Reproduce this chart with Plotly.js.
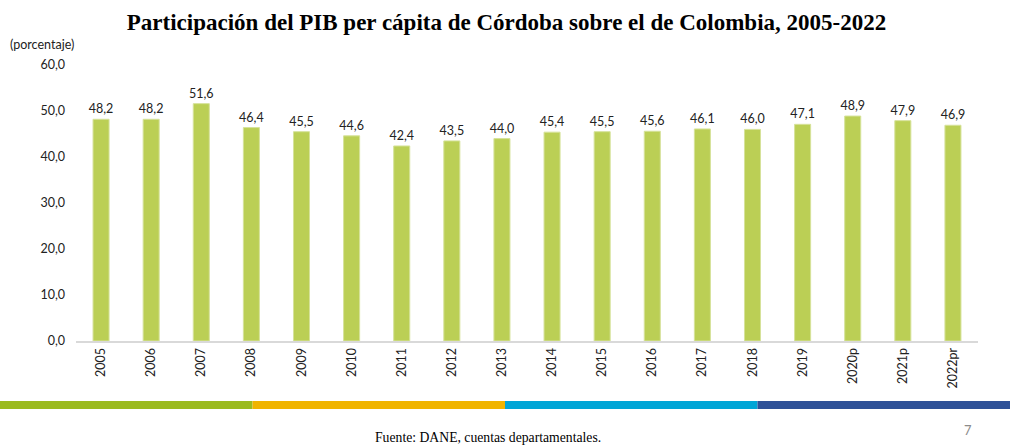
<!DOCTYPE html>
<html>
<head>
<meta charset="utf-8">
<script src="https://cdn.plot.ly/plotly-3.0.1.min.js"></script>
<style>
  body { margin: 0; background: #fff; }
  #chart { width: 1013px; height: 445px; }
</style>
</head>
<body>
<div id="chart"></div>
<script>
// Participación del PIB per cápita de Córdoba sobre el de Colombia
const years = ["2005", "2006", "2007", "2008", "2009", "2010", "2011", "2012", "2013",
               "2014", "2015", "2016", "2017", "2018", "2019", "2020p", "2021p", "2022pr"];
const share = [48.2, 48.2, 51.6, 46.4, 45.5, 44.6, 42.4, 43.5, 44.0,
               45.4, 45.5, 45.6, 46.1, 46.0, 47.1, 48.9, 47.9, 46.9];
const yTicks = [0, 10, 20, 30, 40, 50, 60];

const stripColors = ["#9bbb1f", "#f0b400", "#00a5d6", "#2e5198"];

// plot area in pixels, used to place the coloured strip in paper coords
const L = 76, R = 978, T = 65, B = 341;
const px = x => (x - L) / (R - L);
const py = y => (B - y) / (B - T);

let strip = stripColors.map((c, i) => ({
    type: "rect", xref: "paper", yref: "paper",
    x0: px(i * 252.5), x1: px((i + 1) * 252.5),
    y0: py(401), y1: py(409),
    fillcolor: c, line: { width: 0 }
}));

let trace = {
    x: years,
    y: share,
    type: "bar",
    marker: { color: "#bbcf55", line: { color: "#d6e29a", width: 1 } },
    texttemplate: "%{y:.1f}",
    textposition: "outside",
    constraintext: "none",
    textfont: { family: "Lato, 'Open Sans', sans-serif", size: 12.5, color: "#222" },
    cliponaxis: false,
    hoverinfo: "skip"
};

let layout = {
    width: 1013, height: 445,
    margin: { l: L, r: 1013 - R, t: T, b: 445 - B },
    paper_bgcolor: "#fff", plot_bgcolor: "#fff",
    separators: ",.",
    showlegend: false,
    bargap: 0.68,
    font: { family: "Lato, 'Open Sans', sans-serif", size: 12.5, color: "#222" },
    title: {
        text: "<b>Participación del PIB per cápita de Córdoba sobre el de Colombia, 2005-2022</b>",
        font: { family: "'Liberation Serif', 'DejaVu Serif', serif", size: 23, color: "#000" },
        x: 0.5, xanchor: "center", y: 0.95, yanchor: "middle"
    },
    xaxis: {
        type: "category",
        tickangle: -90,
        showgrid: false,
        showline: true, linecolor: "#d9d9d9", linewidth: 2,
        ticks: "", ticklen: 0,
        tickfont: { size: 12.5, color: "#222" }
    },
    yaxis: {
        range: [0, 60],
        tickvals: yTicks,
        tickformat: ".1f",
        showgrid: false, zeroline: false, showline: false,
        ticks: "", ticklabelstandoff: 10,
        tickfont: { size: 12.5, color: "#222" }
    },
    shapes: strip,
    annotations: [
        {
            text: "(porcentaje)", xref: "paper", yref: "paper",
            x: px(8), y: py(44), xanchor: "left", yanchor: "middle",
            showarrow: false, font: { size: 12.5, color: "#222" }
        },
        {
            text: "Fuente: DANE, cuentas departamentales.", xref: "paper", yref: "paper",
            x: px(488), y: py(437), xanchor: "center", yanchor: "middle",
            showarrow: false,
            font: { family: "'Liberation Serif', serif", size: 13.7, color: "#000" }
        },
        {
            text: "7", xref: "paper", yref: "paper",
            x: px(968), y: py(430), xanchor: "center", yanchor: "middle",
            showarrow: false, font: { size: 13, color: "#8c8c8c" }
        }
    ]
};

Plotly.newPlot("chart", [trace], layout, { displayModeBar: false, staticPlot: true });
</script>
</body>
</html>
